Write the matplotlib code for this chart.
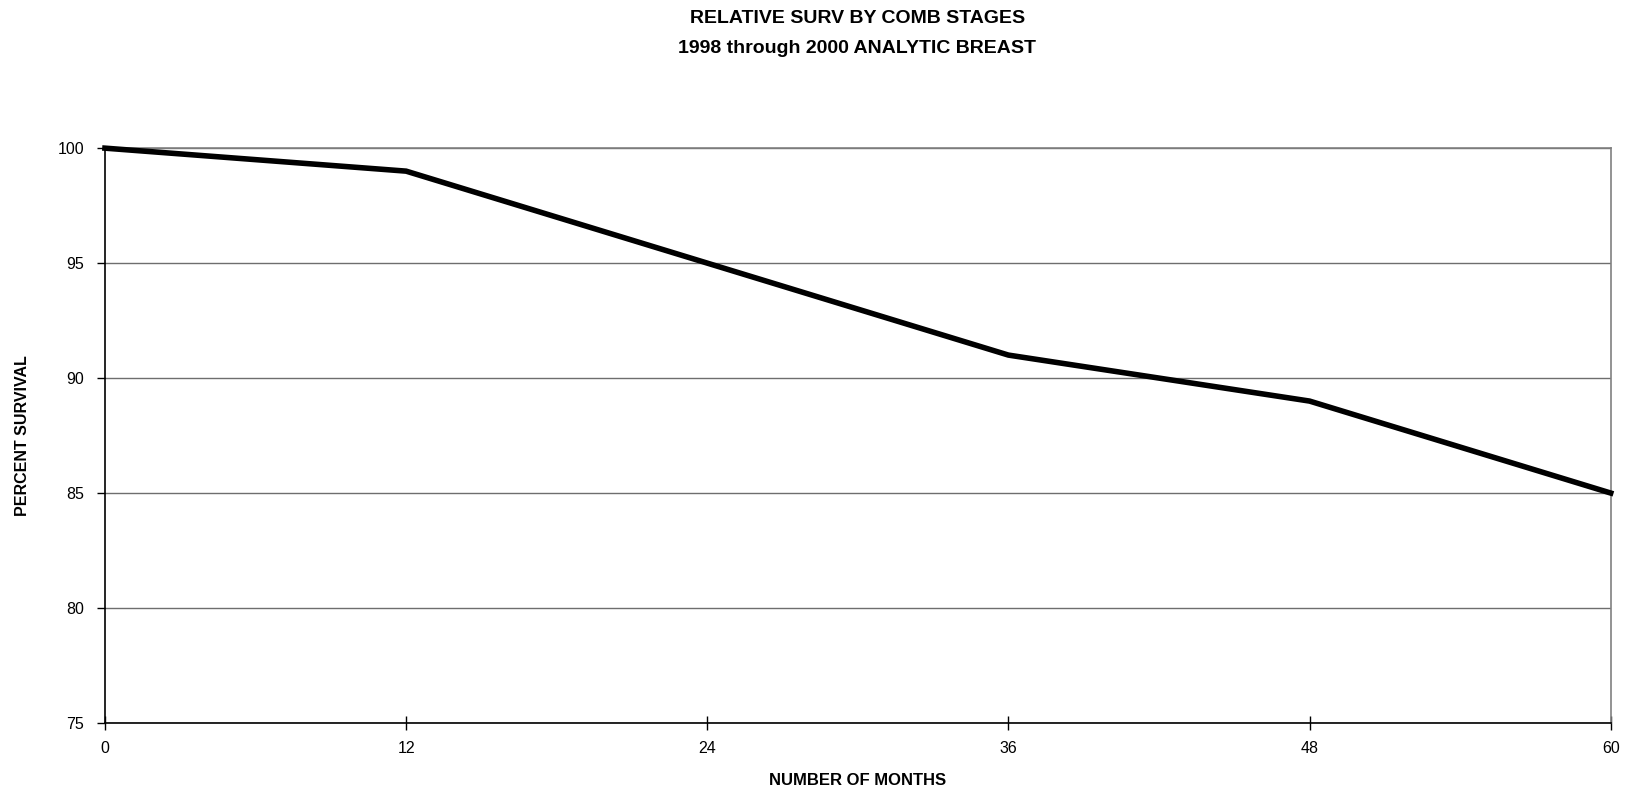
import matplotlib
matplotlib.use("Agg")
import matplotlib.pyplot as plt

months = [0, 12, 24, 36, 48, 60]
survival = [100, 99, 95, 91, 89, 85]
yticks = [75, 80, 85, 90, 95, 100]

plt.rcParams['font.family'] = ['Liberation Sans', 'DejaVu Sans']

fig = plt.figure(figsize=(16.27, 7.88), dpi=100)
ax = fig.add_axes([0.0645, 0.0825, 0.9255, 0.7295])

ax.plot(months, survival, color='black', linewidth=4.0, clip_on=False,
        solid_joinstyle='miter', zorder=3)

ax.set_xlim(0, 60)
ax.set_ylim(75, 100)
ax.set_xticks(months)
ax.set_yticks(yticks)
ax.yaxis.grid(True, color='#6e6e6e', linewidth=1.0)
ax.set_axisbelow(True)

for s in ['top', 'right']:
    ax.spines[s].set_color('#808080')
    ax.spines[s].set_linewidth(1.2)
for s in ['left', 'bottom']:
    ax.spines[s].set_color('black')
    ax.spines[s].set_linewidth(1.2)

ax.tick_params(axis='x', direction='inout', length=10, width=1, pad=8, labelsize=11.5)
ax.tick_params(axis='y', direction='out', length=6, width=1, pad=9, labelsize=11.5)

ax.set_xlabel("NUMBER OF MONTHS", fontsize=12, fontweight='bold', labelpad=12)
ax.set_ylabel("PERCENT SURVIVAL", fontsize=11.5, fontweight='bold', labelpad=20)

fig.text(0.527, 0.976, "RELATIVE SURV BY COMB STAGES", ha='center', va='center',
         fontsize=14, fontweight='bold')
fig.text(0.527, 0.939, "1998 through 2000 ANALYTIC BREAST", ha='center', va='center',
         fontsize=14, fontweight='bold')

fig.savefig("out.png", dpi=100)
